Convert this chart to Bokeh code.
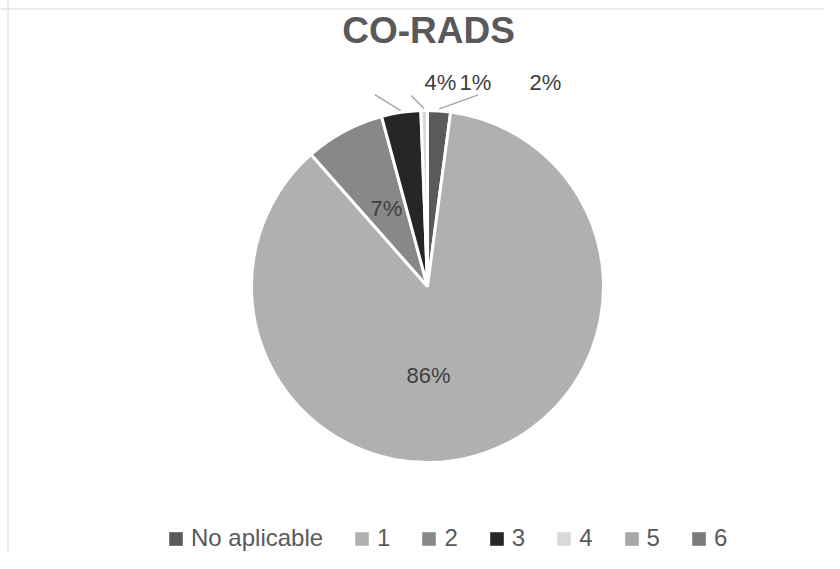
import math
from bokeh.plotting import figure
from bokeh.models import Range1d, ColumnDataSource, Legend, LegendItem, Span
from bokeh.core.properties import value
from bokeh.embed import file_html
from bokeh.resources import INLINE

# ---- data ----
categories = ["No aplicable", "1", "2", "3", "4", "5", "6"]
values = [2.1, 86.4, 7.3, 3.6, 0.6, 0.0, 0.0]
colors = ["#5a5a5a", "#b0b0b0", "#888888", "#262626", "#d9d9d9", "#a8a8a8", "#7a7a7a"]
title_text = "CO-RADS"

# ---- layout (data x = px, data y = 569 - px) ----
W, H = 824, 553
FONT = "Liberation Sans"
cx, cy, R = 427, 283, 176

p = figure(width=W, height=H, output_backend="svg", toolbar_location=None,
           x_range=Range1d(0, W), y_range=Range1d(569 - H, 569),
           min_border=0, tools="")
p.axis.visible = False
p.grid.visible = False
p.outline_line_color = None
p.background_fill_color = "white"
p.border_fill_color = "white"

# chart frame (top & left visible in reference)
p.add_layout(Span(location=569 - 8.5, dimension="width", line_color="#d9d9d9", line_width=1))
p.add_layout(Span(location=7.5, dimension="height", line_color="#d9d9d9", line_width=1))

total = sum(values)
starts, ends, mids = [], [], []
cum = 0.0
for v in values:
    a0 = math.pi / 2 - 2 * math.pi * cum / total
    cum += v
    a1 = math.pi / 2 - 2 * math.pi * cum / total
    starts.append(a0)
    ends.append(a1)
    mids.append((a0 + a1) / 2)

idx = [i for i, v in enumerate(values) if v > 0]
src = ColumnDataSource(dict(
    x=[cx] * len(idx), y=[cy] * len(idx),
    start=[starts[i] for i in idx], end=[ends[i] for i in idx],
    color=[colors[i] for i in idx]))
p.wedge(x="x", y="y", radius=R, start_angle="start", end_angle="end",
        direction="clock", fill_color="color", line_color="white",
        line_width=3, source=src)

# ---- data labels ----
pct = [f"{round(v / total * 100):d}%" for v in values]
# label offsets from pie centre (px; +dy = down on screen)
label_pos = {0: (118, -204), 1: (1, 89), 2: (-41, -78), 3: (13, -204), 4: (48, -204)}
lx, ly, lt = [], [], []
for i, (dx, dy) in label_pos.items():
    lx.append(cx + dx)
    ly.append(cy - dy)
    lt.append(pct[i])
p.text(x=lx, y=ly, text=lt, text_align="center", text_baseline="middle",
       text_font=value(FONT), text_font_size="22px", text_color="#404040")

# leader lines for outside labels
leader_off = {0: (39, -14), 3: (-26, -16), 4: (-13, -13)}
xs, ys = [], []
for i, (dx, dy) in leader_off.items():
    sx = cx + (R + 2) * math.cos(mids[i])
    sy = cy + (R + 2) * math.sin(mids[i])
    xs.append([sx, sx + dx])
    ys.append([sy, sy - dy])
p.multi_line(xs=xs, ys=ys, line_color="#a6a6a6", line_width=1.5)

# ---- title ----
p.text(x=[cx + 1], y=[569 - 30], text=[title_text], text_align="center",
       text_baseline="middle", text_font=value(FONT), text_font_size="37px",
       text_font_style="bold", text_color="#595959")

# ---- legend ----
nan = float("nan")
items = []
for c, col in zip(categories, colors):
    r = p.quad(left=[nan], right=[nan], top=[nan], bottom=[nan],
               fill_color=col, line_color=None)
    items.append(LegendItem(label=c, renderers=[r]))
legend = Legend(items=items, orientation="horizontal", location=(167, 1),
                glyph_width=17, glyph_height=17, label_standoff=7, spacing=30,
                label_width=0, padding=0, margin=0, border_line_color=None,
                background_fill_alpha=0, label_text_font=FONT,
                label_text_font_size="24px", label_text_color="#595959")
p.add_layout(legend, "center")

open("out.html", "w").write(file_html(p, INLINE))
